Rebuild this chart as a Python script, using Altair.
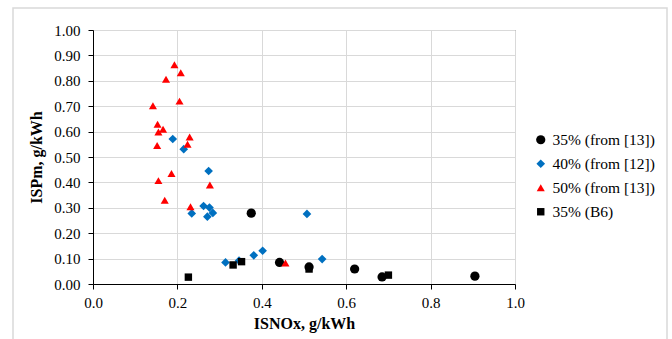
import altair as alt
import pandas as pd

series_names = ["35% (from [13])", "40% (from [12])", "50% (from [13])", "35% (B6)"]

s1_x = [0.375, 0.442, 0.512, 0.620, 0.685, 0.905]
s1_y = [0.279, 0.085, 0.067, 0.059, 0.028, 0.031]

s2_x = [0.189, 0.215, 0.274, 0.262, 0.276, 0.284, 0.234, 0.271, 0.507, 0.402, 0.381, 0.543, 0.346, 0.314]
s2_y = [0.571, 0.531, 0.445, 0.307, 0.301, 0.280, 0.278, 0.265, 0.276, 0.131, 0.113, 0.098, 0.092, 0.085]

s3_x = [0.193, 0.208, 0.173, 0.205, 0.142, 0.153, 0.166, 0.155, 0.229, 0.224, 0.152, 0.186, 0.155, 0.277, 0.170, 0.231, 0.456]
s3_y = [0.863, 0.832, 0.806, 0.720, 0.702, 0.629, 0.609, 0.598, 0.579, 0.550, 0.545, 0.435, 0.407, 0.390, 0.330, 0.304, 0.083]

s4_x = [0.226, 0.332, 0.352, 0.512, 0.700]
s4_y = [0.027, 0.075, 0.088, 0.059, 0.035]

x_ticks = [0, 0.2, 0.4, 0.6, 0.8, 1.0]
y_ticks = [0, 0.1, 0.2, 0.3, 0.4, 0.5, 0.6, 0.7, 0.8, 0.9, 1.0]

rows = []
for name, xs, ys in zip(series_names, [s1_x, s2_x, s3_x, s4_x], [s1_y, s2_y, s3_y, s4_y]):
    for x, y in zip(xs, ys):
        rows.append({"series": name, "x": x, "y": y})
df = pd.DataFrame(rows)

FONT = "Liberation Serif, Times New Roman, serif"

border = alt.Chart(pd.DataFrame({"a": [0]})).mark_rect(
    fill=None, stroke="#d9d9d9", strokeWidth=1.5
).encode(
    x=alt.value(-80), x2=alt.value(574), y=alt.value(-22), y2=alt.value(330)
)

points = alt.Chart(df).mark_point(filled=True, opacity=1).encode(
    x=alt.X("x:Q", scale=alt.Scale(domain=[0, 1], nice=False),
            axis=alt.Axis(title="ISNOx, g/kWh", values=x_ticks, format=".1f")),
    y=alt.Y("y:Q", scale=alt.Scale(domain=[0, 1], nice=False),
            axis=alt.Axis(title="ISPm, g/kWh", values=y_ticks, format=".2f")),
    color=alt.Color("series:N", sort=series_names,
                    scale=alt.Scale(domain=series_names, range=["#000000", "#0070c0", "#ff0000", "#000000"]),
                    legend=alt.Legend(title=None, orient="none", legendX=440, legendY=102,
                                      labelFont=FONT, labelFontSize=15.5, labelColor="#000000",
                                      symbolSize=45, rowPadding=7, labelOffset=4)),
    shape=alt.Shape("series:N", sort=series_names,
                    scale=alt.Scale(domain=series_names, range=["circle", "diamond", "triangle-up", "square"])),
    size=alt.Size("series:N", sort=series_names,
                  scale=alt.Scale(domain=series_names, range=[85, 55, 75, 50]), legend=None),
)

chart = alt.layer(border, points).properties(
    width=422, height=254,
    autosize=alt.AutoSizeParams(type="none"),
    padding={"left": 93, "top": 30, "right": 157, "bottom": 55},
    background="white",
).configure(font=FONT).configure_view(stroke="#595959", strokeWidth=1).configure_axis(
    labelFont=FONT, labelFontSize=15, labelColor="#000000",
    titleFont=FONT, titleFontSize=16, titleFontWeight="bold", titleColor="#000000",
    gridColor="#d9d9d9", gridWidth=1,
    domainColor="#000000", tickColor="#000000", tickSize=5,
    labelFlush=False, labelOverlap=False,
).configure_axisY(
    grid=True, labelPadding=8, titlePadding=9,
).configure_axisX(
    grid=True, labelPadding=6, titlePadding=5,
)

chart.save("out.html", embed_options={"renderer": "svg", "actions": False})
